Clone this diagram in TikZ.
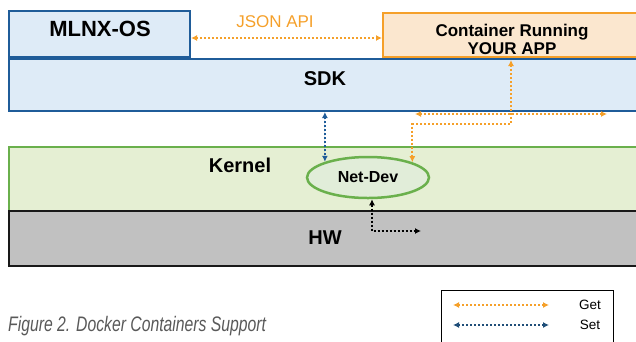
\documentclass[tikz,border=0pt]{standalone}
\usepackage{fontspec}
\setmainfont{Liberation Sans}
\newfontfamily\capfont[FakeStretch=0.75]{Liberation Sans}
\usetikzlibrary{arrows.meta,shapes.geometric}
\definecolor{osblue}{HTML}{1F5C99}
\definecolor{boxblue}{HTML}{DEEBF7}
\definecolor{getorange}{HTML}{F5A02A}
\definecolor{appfill}{HTML}{FBE7CF}
\definecolor{kgreen}{HTML}{6AB04C}
\definecolor{kfill}{HTML}{E5EFD3}
\definecolor{devfill}{HTML}{E1EDD9}
\definecolor{hwgray}{HTML}{C1C1C1}
\definecolor{setblue}{HTML}{1F4E79}
\definecolor{capgray}{HTML}{595959}

\begin{document}
\begin{tikzpicture}[x=1pt,y=-1pt,>={Latex[length=6pt,width=6pt]},
	layer/.style={draw,rectangle,inner sep=0pt,line width=2pt},
	big/.style={font=\fontsize{20}{24}\selectfont\bfseries},
	getline/.style={<->,getorange,line width=2pt,dash pattern=on 2pt off 2pt},
	setline/.style={<->,setblue,line width=2pt,dash pattern=on 2pt off 2pt}]
	\useasboundingbox (0,0) rectangle (636,341);
	\node[layer,draw=osblue,fill=boxblue,minimum width=636,minimum height=52] (sdk) at (327,85) {};
	\node[layer,draw=osblue,fill=boxblue,minimum width=181,minimum height=46] (os) at (99.5,34) {};
	\node[layer,draw=getorange,fill=appfill,minimum width=256,minimum height=44] (app) at (511,35) {};
	\node[layer,draw=kgreen,fill=kfill,minimum width=636,minimum height=64] (kernel) at (327,179) {};
	\node[layer,draw=black!90,fill=hwgray,minimum width=636,minimum height=55] (hw) at (327,238.5) {};
	\node[ellipse,draw=kgreen,fill=devfill,line width=2.5pt,inner sep=0pt,minimum width=122,minimum height=41,font=\fontsize{16}{18}\selectfont\bfseries] (dev) at (368,177.5) {Net-Dev};
	\node[big,font=\fontsize{22}{24}\selectfont\bfseries] (oslabel) at (100,29) {MLNX-OS};
	\node[big] (sdklabel) at (325,79) {SDK};
	\node[big] (klabel) at (240,165) {Kernel};
	\node[big] (hwlabel) at (325,238) {HW};
	\node[align=center,font=\fontsize{17}{18}\selectfont\bfseries] (applabel) at (512,39) {Container Running\\YOUR APP};
	\node[font=\fontsize{17}{20}\selectfont,text=getorange] (json) at (275,22) {JSON API};
	\draw[getline] ([yshift=-4pt]os.east) -- ([yshift=-3pt]app.west);
	\draw[setline,draw=osblue,fill=osblue] (dev.160.5 |- sdk.south) -- (dev.160.5);
	\draw[getline,shorten <=2pt] (app.south) -- ++(0,66) -| (dev.19.5);
	\coordinate (busL) at (415,114);
	\coordinate (busR) at (607,114);
	\draw[getline] (busL) -- (busR);
	\coordinate (hwport) at (421,231);
	\draw[<->,black,line width=2pt,dash pattern=on 2pt off 2pt] ([xshift=4pt]dev.south) |- (hwport);
	\node[draw,line width=1pt,inner sep=0pt,minimum width=172,minimum height=60] (legend) at (527,320) {};
	\coordinate (getL) at (453,305);
	\coordinate (getR) at (549,305);
	\coordinate (setL) at (453,325);
	\coordinate (setR) at (549,325);
	\draw[getline] (getL) -- (getR);
	\draw[setline] (setL) -- (setR);
	\node[font=\fontsize{13.5}{16}\selectfont] (get) at (590,305) {Get};
	\node[font=\fontsize{13.5}{16}\selectfont] (set) at (590,325) {Set};
	\node[anchor=west,inner sep=0pt,text=capgray,font=\capfont\itshape\fontsize{21}{24}\selectfont] (caption) at (8,326) {Figure 2. Docker Containers Support};
\end{tikzpicture}
\end{document}
